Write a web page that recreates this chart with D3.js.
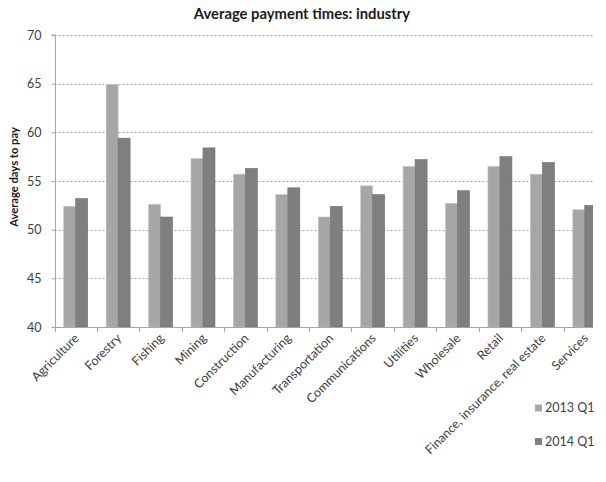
<!DOCTYPE html>
<html><head><meta charset="utf-8">
<script src="https://cdn.jsdelivr.net/npm/d3@7/dist/d3.min.js"></script>
<style>
body{margin:0;background:#fff;}
text{font-family:Lato,"Open Sans",sans-serif;}
</style>
</head><body>
<svg id="chart" width="606" height="482"></svg>
<script>
const categories = ["Agriculture","Forestry","Fishing","Mining","Construction","Manufacturing","Transportation","Communications","Utilities","Wholesale","Retail","Finance, insurance, real estate","Services"];
const seriesNames = ["2013 Q1","2014 Q1"];
const values2013 = [52.4,64.9,52.6,57.3,55.7,53.6,51.3,54.5,56.5,52.7,56.5,55.7,52.05];
const values2014 = [53.2,59.4,51.3,58.4,56.3,54.3,52.4,53.6,57.2,54.0,57.5,56.9,52.5];
const yTicks = [40,45,50,55,60,65,70];
const colors = ["#a6a6a6","#7f7f7f"];

(function(){
const svg = d3.select("#chart");
const pLeft = 54.5, pRight = 606, pTop = 35, pBottom = 327, clipRight = 593;

const x = d3.scaleBand().domain(categories).range([pLeft, pRight])
  .paddingInner(0.435).paddingOuter(0.2175);
const x1 = d3.scaleBand().domain(seriesNames).range([0, x.bandwidth()]);
const y = d3.scaleLinear().domain([40,70]).range([pBottom, pTop]);

svg.append("defs").append("clipPath").attr("id","clip")
  .append("rect").attr("x",0).attr("y",0).attr("width",clipRight).attr("height",482);

const plot = svg.append("g").attr("clip-path","url(#clip)");

// gridlines
plot.append("g").selectAll("line").data(yTicks.filter(d=>d>40)).join("line")
  .attr("x1",pLeft).attr("x2",pRight)
  .attr("y1",d=>Math.round(y(d))+0.5).attr("y2",d=>Math.round(y(d))+0.5)
  .attr("stroke","#a6a6a6").attr("stroke-width",1).attr("stroke-dasharray","2,2");

// bars
const series = [values2013, values2014];
seriesNames.forEach((s, si) => {
  plot.append("g").selectAll("rect").data(categories).join("rect")
    .attr("x", c => x(c) + x1(s))
    .attr("y", (c,i) => y(series[si][i]))
    .attr("width", x1.bandwidth())
    .attr("height", (c,i) => y(40) - y(series[si][i]))
    .attr("fill", colors[si])
    .attr("stroke", si === 0 ? "#c4c4c4" : "#6e6e6e")
    .attr("stroke-width", 0.6);
});

// x axis
const xAxisG = plot.append("g");
xAxisG.append("line").attr("x1",pLeft).attr("x2",pRight)
  .attr("y1",pBottom+0.5).attr("y2",pBottom+0.5).attr("stroke","#a6a6a6");
const step = x.step();
xAxisG.selectAll("line.tk").data(d3.range(categories.length+1)).join("line").attr("class","tk")
  .attr("x1",i=>Math.round(pLeft + i*step)+0.5).attr("x2",i=>Math.round(pLeft + i*step)+0.5)
  .attr("y1",pBottom).attr("y2",pBottom+5).attr("stroke","#a6a6a6");

// y axis
const yAxis = d3.axisLeft(y).tickValues(yTicks).tickSize(4).tickPadding(10);
const yg = svg.append("g").attr("transform",`translate(${Math.round(pLeft)+0.5},0)`).call(yAxis);
yg.select(".domain").attr("stroke","#a6a6a6").attr("d",`M-4,${pTop}H0V${pBottom}`);
yg.selectAll(".tick line").attr("stroke","#a6a6a6");
yg.selectAll(".tick text").attr("fill","#404040").style("font-size","12.5px").style("font-family","Lato");

// x labels
svg.append("g").selectAll("text").data(categories).join("text")
  .attr("transform", c => `translate(${x(c)+x.bandwidth()/2+4},${pBottom+12}) rotate(-45)`)
  .attr("text-anchor","end")
  .attr("fill","#404040")
  .style("font-size","12.5px")
  .text(c => c);

// title
svg.append("text").attr("x",302).attr("y",19).attr("text-anchor","middle")
  .attr("fill","#1a1a1a").style("font-size","14.8px").style("font-weight","bold")
  .text("Average payment times: industry");

// y title
svg.append("text").attr("transform",`translate(18,177) rotate(-90)`)
  .attr("text-anchor","middle").attr("fill","#1a1a1a")
  .style("font-size","11.2px").style("font-weight","bold")
  .text("Average days to pay");

// legend
const lg = svg.append("g").selectAll("g").data(seriesNames).join("g")
  .attr("transform",(d,i)=>`translate(535,${408 + i*33.5})`);
lg.append("rect").attr("x",0).attr("y",-3.5).attr("width",7).attr("height",7)
  .attr("fill",(d,i)=>colors[i]);
lg.append("text").attr("x",10).attr("y",0).attr("dy","0.35em")
  .attr("fill","#404040").style("font-size","12.5px").text(d=>d);
})();
</script>
</body></html>
